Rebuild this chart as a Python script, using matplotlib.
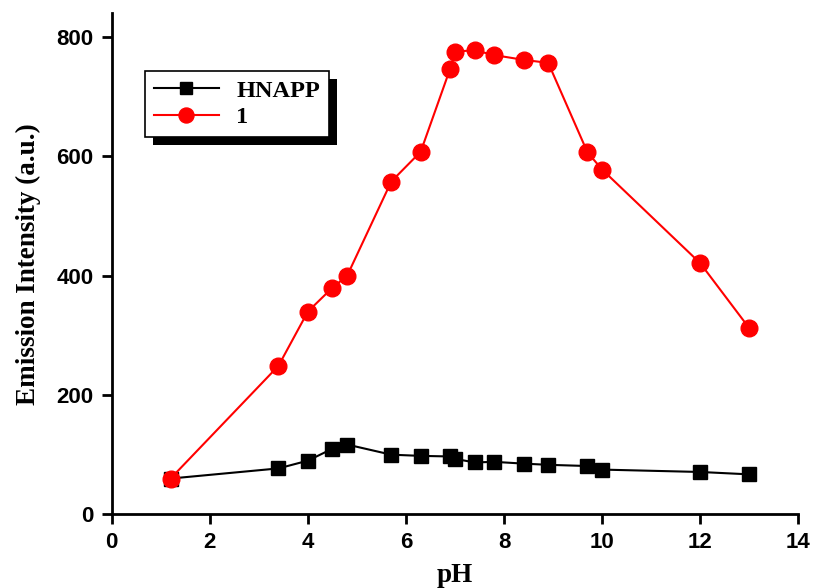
import matplotlib
matplotlib.use("Agg")
import matplotlib.pyplot as plt
from matplotlib import font_manager
from matplotlib.patches import Rectangle

# pH values and emission intensities
ph = [1.2, 3.4, 4.0, 4.5, 4.8, 5.7, 6.3, 6.9, 7.0, 7.4, 7.8, 8.4, 8.9, 9.7, 10.0, 12.0, 13.0]
hnapp = [60, 77, 90, 110, 117, 100, 98, 97, 93, 87, 88, 85, 83, 81, 75, 71, 67]
comp1 = [60, 249, 340, 380, 400, 558, 608, 747, 776, 778, 770, 762, 757, 607, 578, 421, 312]

xticks = [0, 2, 4, 6, 8, 10, 12, 14]
yticks = [0, 200, 400, 600, 800]

# pick the regular-width Liberation Sans Bold file (not the Narrow one)
tick_font = None
for f in font_manager.fontManager.ttflist:
    if f.name == 'Liberation Sans' and f.weight in (700, 'bold') and f.style == 'normal' \
            and 'Narrow' not in f.fname:
        tick_font = font_manager.FontProperties(fname=f.fname, size=16)
        break
if tick_font is None:
    tick_font = font_manager.FontProperties(family='Liberation Sans', weight='bold', size=16)

fig = plt.figure(figsize=(8.13, 5.88), dpi=100)
ax = fig.add_axes([0.1374, 0.1253, 0.8446, 0.852])

ax.plot(ph, hnapp, color='black', marker='s', markersize=10, lw=1.5, label='HNAPP')
ax.plot(ph, comp1, color='red', marker='o', markersize=12, lw=1.5, label='1')

ax.set_xlim(0, 14)
ax.set_ylim(0, 840)
ax.set_xticks(xticks)
ax.set_yticks(yticks)

for s in ['top', 'right']:
    ax.spines[s].set_visible(False)
for s in ['left', 'bottom']:
    ax.spines[s].set_linewidth(2)

ax.tick_params(direction='out', length=7, width=2, pad=6)
for lab in ax.get_xticklabels() + ax.get_yticklabels():
    lab.set_fontproperties(tick_font)

ax.set_xlabel('pH', fontfamily='Liberation Serif', fontweight='bold', fontsize=19.5, labelpad=7)
ax.set_ylabel('Emission Intensity (a.u.)', fontfamily='Liberation Serif', fontweight='bold',
              fontsize=19.5, labelpad=11)

leg = ax.legend(loc='upper left', bbox_to_anchor=(0.031, 0.909), fancybox=False, shadow=False,
                framealpha=1, edgecolor='black', handlelength=2.7, borderpad=0.35,
                handletextpad=0.7, labelspacing=0.2, markerscale=0.9,
                prop={'family': 'Liberation Serif', 'weight': 'bold', 'size': 17.5})
leg.get_frame().set_linewidth(1.2)
leg.set_zorder(5)

# solid black drop shadow behind the legend box
fig.canvas.draw()
bb = leg.get_window_extent()
off = 8
shadow = Rectangle((bb.x0 + off, bb.y0 - off), bb.width, bb.height, transform=None,
                   facecolor='black', edgecolor='none', zorder=4)
ax.add_artist(shadow)

fig.savefig('out.png', dpi=100)
